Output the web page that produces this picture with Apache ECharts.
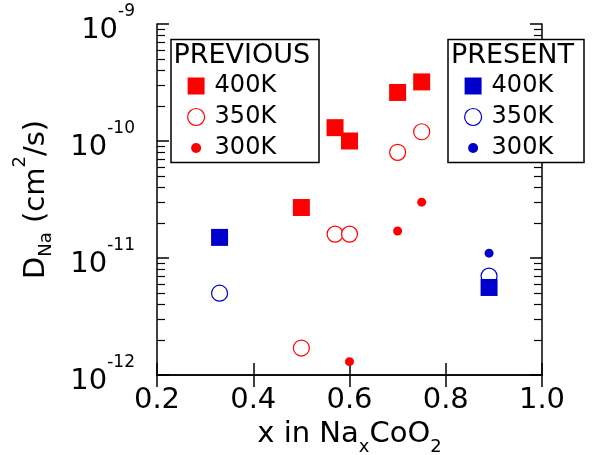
<!DOCTYPE html>
<html><head><meta charset="utf-8">
<script src="https://cdn.jsdelivr.net/npm/echarts@6/dist/echarts.min.js"></script>
<style>html,body{margin:0;padding:0;background:#fff}#c{width:593px;height:455px}</style>
</head><body><div id="c"></div>
<script>
// ---------------- data (D_Na in cm^2/s vs x in NaxCoO2) ----------------
const prev400X = [0.5, 0.57, 0.6, 0.7, 0.75];
const prev400Y = [2.7e-11, 1.3e-10, 1.0e-10, 2.6e-10, 3.2e-10];
const prev350X = [0.5, 0.57, 0.6, 0.7, 0.75];
const prev350Y = [1.7e-12, 1.6e-11, 1.6e-11, 8.0e-11, 1.2e-10];
const prev300X = [0.6, 0.7, 0.75];
const prev300Y = [1.3e-12, 1.7e-11, 3.0e-11];
const pres400X = [0.33, 0.89];
const pres400Y = [1.5e-11, 5.6e-12];
const pres350X = [0.33, 0.89];
const pres350Y = [5.0e-12, 7.0e-12];
const pres300X = [0.89];
const pres300Y = [1.1e-11];

const xTickLabels = ['0.2', '0.4', '0.6', '0.8', '1.0'];
const yTickExponents = ['-12', '-11', '-10', '-9'];
const yMinorMantissas = [2, 3, 4, 5, 6, 7, 8, 9];
const legendLabels = ['400K', '350K', '300K'];
const groupTitles = ['PREVIOUS', 'PRESENT'];

// ---------------- styling ----------------
const FONT = 'DejaVu Sans';
const RED = '#ff0000', BLUE = '#0000cc';
const Y_UNIT = 1e-12; // log axis runs in units of 1e-12 cm^2/s (1 .. 1000)

function pts(xs, ys) { return xs.map((x, i) => [x, ys[i] / Y_UNIT]); }

function mk(name, xs, ys, kind, color) {
  const base = { name, type: 'scatter', data: pts(xs, ys), silent: true,
    emphasis: { disabled: true }, xAxisIndex: 0, yAxisIndex: 0 };
  if (kind === 'sq') return Object.assign(base, { symbol: 'rect', symbolSize: 17, itemStyle: { color, opacity: 1 }, z: 4 });
  if (kind === 'oc') return Object.assign(base, { symbol: 'circle', symbolSize: 16,
    itemStyle: { color: '#ffffff', borderColor: color, borderWidth: 1.2, opacity: 1 }, z: 2 });
  return Object.assign(base, { symbol: 'circle', symbolSize: 9, itemStyle: { color, opacity: 1 }, z: 3 });
}

const names = {
  p4: groupTitles[0] + ' ' + legendLabels[0], p3: groupTitles[0] + ' ' + legendLabels[1], p2: groupTitles[0] + ' ' + legendLabels[2],
  q4: groupTitles[1] + ' ' + legendLabels[0], q3: groupTitles[1] + ' ' + legendLabels[1], q2: groupTitles[1] + ' ' + legendLabels[2]
};

const series = [
  mk(names.p3, prev350X, prev350Y, 'oc', RED),
  mk(names.p2, prev300X, prev300Y, 'dot', RED),
  mk(names.p4, prev400X, prev400Y, 'sq', RED),
  mk(names.q3, pres350X, pres350Y, 'oc', BLUE),
  mk(names.q2, pres300X, pres300Y, 'dot', BLUE),
  mk(names.q4, pres400X, pres400Y, 'sq', BLUE)
];

const SQ_ICON = 'path://M0,0L17,0L17,17L0,17Z';
const DOT_ICON = 'path://M0,0M17,17M8.5,3.5a5,5 0 1,1 0,10a5,5 0 1,1 0,-10z';
const minorPos = [];
for (let d = 0; d < 3; d++) yMinorMantissas.forEach(m => minorPos.push(d + Math.log10(m)));

const AX = { color: '#000', width: 1.5 };
const legendText = { fontFamily: FONT, fontSize: 24, color: '#000', lineHeight: 17, padding: [0, 0, 0, 5] };
function mkLegend(left, keys) {
  return {
    orient: 'vertical', left, top: 74, padding: 0, itemWidth: 17, itemHeight: 17, itemGap: 7,
    symbolKeepAspect: true, z: 20,
    selectedMode: false, textStyle: legendText,
    formatter: n => n.split(' ')[1],
    data: [
      { name: names[keys[0]], icon: SQ_ICON },
      { name: names[keys[1]], itemStyle: { borderWidth: 1.2 } },
      { name: names[keys[2]], icon: DOT_ICON }
    ]
  };
}

const xAxisCommon = { type: 'value', min: 0.2, max: 1.0, interval: 0.2,
  axisLine: { show: true, lineStyle: AX }, splitLine: { show: false },
  axisTick: { show: true, inside: true, length: 12, lineStyle: AX } };
const yLog = { type: 'log', logBase: 10, min: 1, max: 1000, splitNumber: 3,
  axisLine: { show: true, lineStyle: AX }, splitLine: { show: false },
  axisTick: { show: true, inside: true, length: 12, lineStyle: AX } };
const yMinor = { type: 'value', min: 0, max: 3,
  axisLine: { show: false }, splitLine: { show: false }, axisLabel: { show: false },
  axisTick: { show: true, inside: true, length: 8, lineStyle: { color: '#000', width: 1.2 }, customValues: minorPos } };

const option = {
  animation: false,
  backgroundColor: '#fff',
  grid: { left: 157, right: 51, top: 24, bottom: 80, containLabel: false, outerBoundsMode: 'none' },
  xAxis: [
    Object.assign({}, xAxisCommon, {
      position: 'bottom',
      axisLabel: { show: true, margin: 11, color: '#000', fontFamily: FONT, fontSize: 29,
        formatter: v => xTickLabels[Math.round((v - 0.2) / 0.2)] },
      name: '{m|x in Na}{sub|x}{m|CoO}{sub|2}', nameLocation: 'middle', nameGap: 24,
      nameTextStyle: { color: '#000', fontFamily: FONT, fontSize: 29,
        rich: { m: { fontFamily: FONT, fontSize: 29, color: '#000', lineHeight: 36, verticalAlign: 'top' },
                sub: { fontFamily: FONT, fontSize: 18, color: '#000', verticalAlign: 'bottom' } } }
    }),
    Object.assign({}, xAxisCommon, { position: 'top', axisLabel: { show: false } })
  ],
  yAxis: [
    Object.assign({}, yLog, {
      position: 'left',
      axisLabel: { show: true, margin: 22, color: '#000', fontFamily: FONT, fontSize: 29,
        formatter: v => '{b|10}{s|' + yTickExponents[Math.round(Math.log10(v))] + '}',
        rich: { b: { fontFamily: FONT, fontSize: 29, color: '#000', lineHeight: 42, verticalAlign: 'bottom' },
                s: { fontFamily: FONT, fontSize: 17, color: '#000', verticalAlign: 'top' } } },
      name: '{m|D}{sub|Na}{m| (cm}{sup|2}{m|/s)}', nameLocation: 'middle', nameGap: 102,
      nameTextStyle: { color: '#000', fontFamily: FONT, fontSize: 29,
        rich: { m: { fontFamily: FONT, fontSize: 29, color: '#000', lineHeight: 44, verticalAlign: 'bottom', padding: [0, 0, 4, 0] },
                sub: { fontFamily: FONT, fontSize: 18, color: '#000', verticalAlign: 'bottom' },
                sup: { fontFamily: FONT, fontSize: 18, color: '#000', verticalAlign: 'top' } } }
    }),
    Object.assign({}, yLog, { position: 'right', axisLabel: { show: false } }),
    Object.assign({}, yMinor, { position: 'left' }),
    Object.assign({}, yMinor, { position: 'right' })
  ],
  legend: [mkLegend(187, ['p4', 'p3', 'p2']), mkLegend(464, ['q4', 'q3', 'q2'])],
  graphic: [
    { type: 'rect', silent: true, z: 10, shape: { x: 171, y: 39.5, width: 148, height: 123 },
      style: { fill: '#fff', stroke: '#000', lineWidth: 1.5 } },
    { type: 'text', silent: true, z: 30, x: 173.5, y: 56,
      style: { text: groupTitles[0], fontFamily: FONT, fontSize: 27, fill: '#000', verticalAlign: 'middle' } },
    { type: 'rect', silent: true, z: 10, shape: { x: 448, y: 39.5, width: 136, height: 123 },
      style: { fill: '#fff', stroke: '#000', lineWidth: 1.5 } },
    { type: 'text', silent: true, z: 30, x: 451, y: 56,
      style: { text: groupTitles[1], fontFamily: FONT, fontSize: 27, fill: '#000', verticalAlign: 'middle' } }
  ],
  series
};

const chart = echarts.init(document.getElementById('c'), null, { renderer: 'canvas' });
chart.setOption(option);
</script>
</body></html>
